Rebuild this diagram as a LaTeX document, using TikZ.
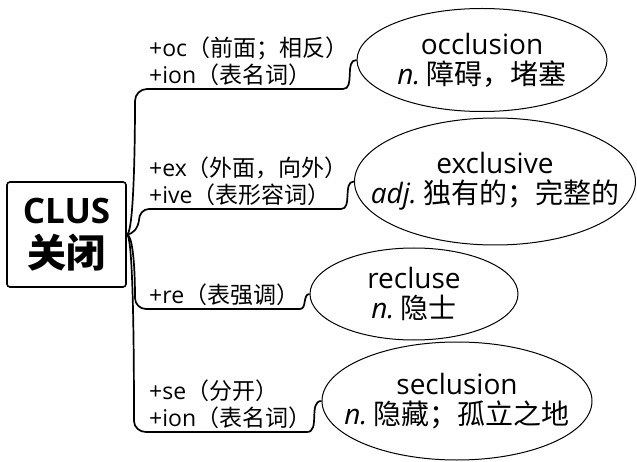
\documentclass[tikz,border=0pt]{standalone}
\usepackage{fontspec}
\setmainfont{Open Sans}
\newfontfamily\cjk{Noto Sans CJK SC}
\usetikzlibrary{shapes.geometric, positioning}
\newcommand{\zh}[1]{{\cjk #1}}

\begin{document}
\begin{tikzpicture}[
        x=1pt, y=1pt,
        root/.style={draw, rectangle, rounded corners=3pt, line width=1.6pt, minimum width=119pt, minimum height=105pt, align=center, font=\fontsize{35}{44}\selectfont\bfseries},
        word/.style={draw, ellipse, line width=1pt, inner xsep=-25pt, inner ysep=0pt, align=center, font=\fontsize{28}{30}\selectfont},
        tag/.style={inner sep=0pt, align=left, font=\fontsize{23}{27}\selectfont},
        branch/.style={line width=1.7pt}
    ]
        \useasboundingbox (0,0) rectangle (637,461);

        % Root
        \node[root] (root) at (66.5,226.5) {CLUS\\\fontsize{39}{44}\selectfont\zh{关闭}};

        % Derived words
        \node[word, minimum width=250pt, minimum height=103pt] (occl) at (482,401) {occlusion\\\textit{n.}\hspace{0.22em}\zh{障碍，堵塞}};
        \node[word, minimum width=281pt, minimum height=127pt] (excl) at (495,279.5) {exclusive\\\textit{adj.}\hspace{0.22em}\zh{独有的；完整的}};
        \node[word, minimum width=208pt, minimum height=92pt] (recl) at (414,167) {recluse\\\textit{n.}\hspace{0.22em}\zh{隐士}};
        \node[word, minimum width=270pt, minimum height=118pt] (secl) at (457,60) {seclusion\\\textit{n.}\hspace{0.22em}\zh{隐藏；孤立之地}};

        % Corners of the branches
        \coordinate (c1) at (147,372);
        \coordinate (d1) at (343,372);
        \coordinate (c2) at (149,252);
        \coordinate (d2) at (341,252);
        \coordinate (c3) at (146,152);
        \coordinate (d3) at (300,152);
        \coordinate (c4) at (146,29);
        \coordinate (d4) at (307,29);

        % Prefix and suffix tags
        \node[tag, above right=3pt and 2pt of c1] (t1) {+oc\zh{（前面；相反）}\\+ion\zh{（表名词）}};
        \node[tag, above right=3pt and 0pt of c2] (t2) {+ex\zh{（外面，向外）}\\+ive\zh{（表形容词）}};
        \node[tag, above right=3pt and 3pt of c3] (t3) {+re\zh{（表强调）}};
        \node[tag, above right=3pt and 3pt of c4] (t4) {+se\zh{（分开）}\\+ion\zh{（表名词）}};

        % Branches
        \draw[branch] (root.east) .. controls (133,226.5) and (135,300) .. (135,360) to[out=90,in=180] (c1) -- (d1) to[out=0,in=180] (occl.west);
        \draw[branch] (root.east) .. controls (132,226.5) and (138,232) .. (139,241) to[out=90,in=180] (c2) -- (d2) to[out=0,in=180] (excl.west);
        \draw[branch] (root.east) .. controls (132,226.5) and (135,200) .. (135,163) to[out=-90,in=180] (c3) -- (d3) to[out=0,in=180] (recl.west);
        \draw[branch] (root.east) .. controls (132,226.5) and (134,150) .. (134,40) to[out=-90,in=180] (c4) -- (d4) to[out=0,in=180] (secl.west);

    \end{tikzpicture}
\end{document}
